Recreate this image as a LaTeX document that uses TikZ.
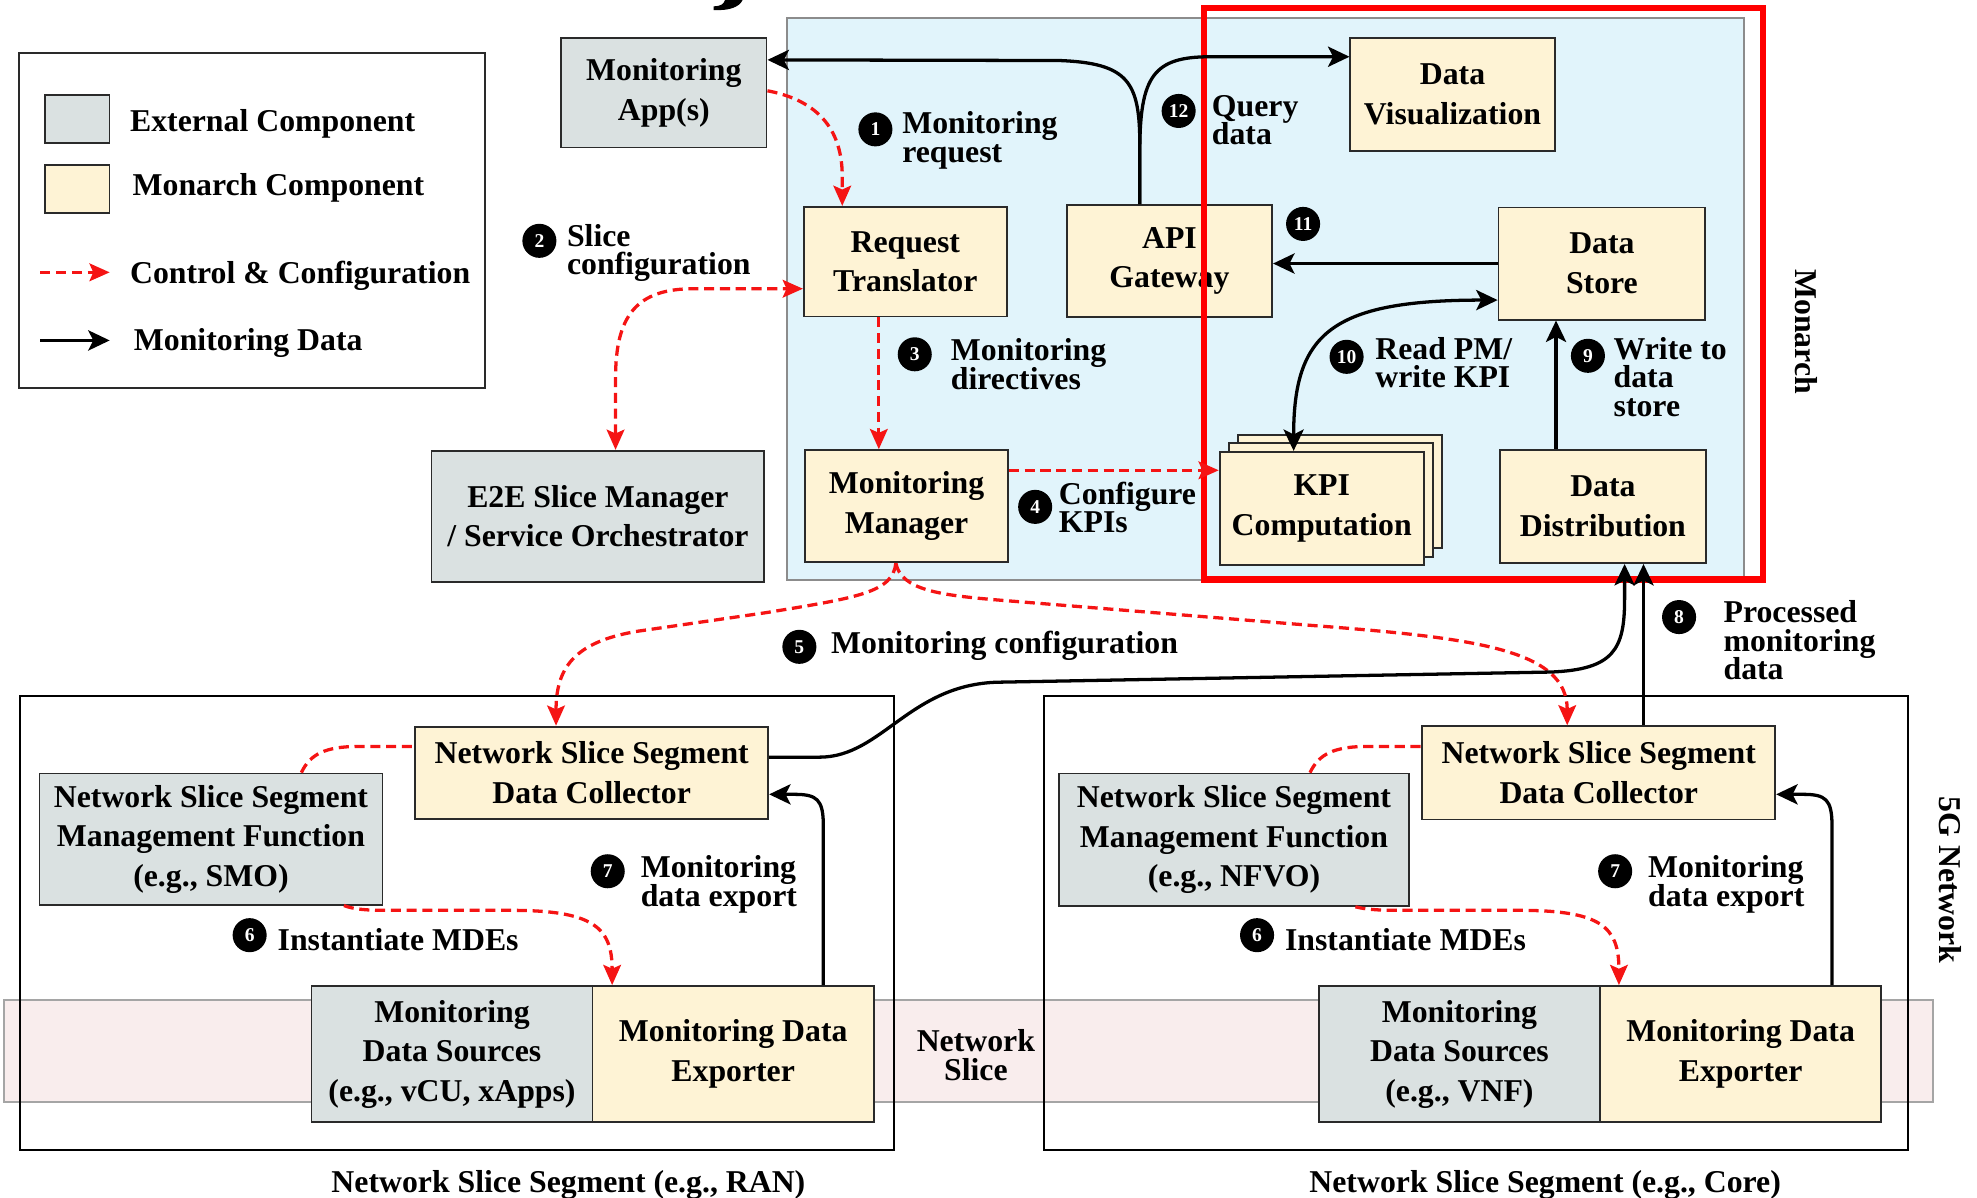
\documentclass[tikz,border=0pt]{standalone}
\usepackage{fontspec}
\setmainfont{Liberation Serif}
\usetikzlibrary{arrows.meta,calc}
\definecolor{extgray}{HTML}{DAE1E1}
\definecolor{monyel}{HTML}{FEF3D5}
\definecolor{monblue}{HTML}{E1F4FB}
\definecolor{slicepink}{HTML}{F9EDED}
\definecolor{monborder}{HTML}{8C8C8C}
\definecolor{bandborder}{HTML}{A5A5A5}
\definecolor{boxline}{HTML}{2A2A2A}
\definecolor{dashred}{HTML}{F51414}
\definecolor{focusred}{HTML}{FF0000}
\lineskiplimit=-100pt
\tikzset{
  lbltxt/.style={font=\fontsize{25.2}{31.4}\selectfont\bfseries, inner sep=0pt},
  compbox/.style={lbltxt, draw=boxline, line width=1.4pt, align=center},
  extbox/.style={compbox, fill=extgray},
  monbox/.style={compbox, fill=monyel},
  annot/.style={font=\fontsize{25.2}{#1}\selectfont\bfseries, inner sep=0pt, align=left, anchor=base west},
  annot/.default=22.5,
  badge/.style={circle, fill=black, text=white, inner sep=0pt, minimum size=27pt, font=\fontsize{15.5}{15.5}\selectfont\bfseries},
  ctrlline/.style={draw=dashred, line width=2.6pt, dash pattern=on 8pt off 4.5pt},
  ctrlarrow/.style={ctrlline, -{Stealth[length=16pt,width=14pt,inset=3pt]}},
  ctrlboth/.style={ctrlline, {Stealth[length=16pt,width=14pt,inset=3pt]}-{Stealth[length=16pt,width=14pt,inset=3pt]}},
  dataarrow/.style={draw=black, line width=2.6pt, -{Stealth[length=17pt,width=16pt,inset=4pt]}},
  databoth/.style={draw=black, line width=2.6pt, {Stealth[length=17pt,width=16pt,inset=4pt]}-{Stealth[length=17pt,width=16pt,inset=4pt]}},
}
\begin{document}
\begin{tikzpicture}[x=1pt,y=-1pt]
\useasboundingbox (0,0) rectangle (1568,950);

% title fragment at top edge
\fill (575,0) -- (589,0) .. controls (586,6) and (578,8.5) .. (566,8) -- (566,5) .. controls (572,5) and (574,3) .. (575,0) -- cycle;

% backgrounds
\node[draw=monborder, fill=monblue, line width=1.5pt, minimum width=759pt, minimum height=446pt, inner sep=0pt] (monarch) at (1003.5,237) {};
\node[draw=bandborder, fill=slicepink, line width=1.5pt, minimum width=1530pt, minimum height=81pt, inner sep=0pt] (band) at (768,833.5) {};
\node[draw=black, line width=1.8pt, minimum width=693pt, minimum height=360pt, inner sep=0pt] (segL) at (362.5,732) {};
\node[draw=black, line width=1.8pt, minimum width=685pt, minimum height=360pt, inner sep=0pt] (segR) at (1170.5,732) {};

% legend
\node[draw=boxline, line width=1.5pt, minimum width=370pt, minimum height=266pt, inner sep=0pt] (legend) at (200,175) {};
\node[extbox, minimum width=51pt, minimum height=38pt] (lgext) at (61.3,94.5) {};
\node[monbox, minimum width=51pt, minimum height=38pt] (lgmon) at (61.3,150) {};
\node[lbltxt, anchor=base west] (lgexttxt) at (103,104.5) {External Component};
\node[lbltxt, anchor=base west] (lgmontxt) at (105,155) {Monarch Component};
\node[lbltxt, anchor=base west] (lgctrltxt) at (103,225) {Control \& Configuration};
\node[lbltxt, anchor=base west] (lgdatatxt) at (106,278) {Monitoring Data};
\coordinate (lgc1) at (32,216); \coordinate (lgc2) at (87,216);
\coordinate (lgd1) at (32,270); \coordinate (lgd2) at (87,270);
\draw[ctrlarrow] (lgc1) -- (lgc2);
\draw[dataarrow] (lgd1) -- (lgd2);

% components
\node[extbox, minimum width=163pt, minimum height=87pt] (app) at (526.5,73.5) {Monitoring\\App(s)};
\node[monbox, minimum width=161pt, minimum height=87pt] (rt) at (718,207.5) {Request\\Translator};
\node[monbox, minimum width=163pt, minimum height=89pt] (api) at (927.5,207) {API\\Gateway};
\node[monbox, minimum width=162pt, minimum height=90pt] (viz) at (1152,75) {Data\\Visualization};
\node[monbox, minimum width=164pt, minimum height=89pt] (ds) at (1270.5,209) {Data\\Store};
\node[monbox, minimum width=161pt, minimum height=89pt] (mm) at (719,401.5) {Monitoring\\Manager};
\node[monbox, minimum width=162pt, minimum height=90pt] (kpiback) at (1062.7,389.9) {};
\node[monbox, minimum width=162pt, minimum height=90pt] (kpimid) at (1055.5,396.6) {};
\node[monbox, minimum width=162pt, minimum height=90pt] (kpi) at (1048.3,403.3) {KPI\\Computation};
\node[monbox, minimum width=163pt, minimum height=90pt] (dd) at (1271.3,401.6) {Data\\Distribution};
\node[extbox, minimum width=264pt, minimum height=104pt] (e2e) at (474.2,409.5) {E2E Slice Manager\\/ Service Orchestrator};

\node[monbox, minimum width=280pt, minimum height=73pt] (ldc) at (469.3,612.8) {Network Slice Segment\\Data Collector};
\node[extbox, minimum width=272pt, minimum height=104pt] (lmf) at (167.3,665.5) {Network Slice Segment\\Management Function\\(e.g., SMO)};
\node[extbox, minimum width=223pt, minimum height=108pt] (lmds) at (358.5,836) {Monitoring\\Data Sources\\(e.g., vCU, xApps)};
\node[monbox, minimum width=223pt, minimum height=108pt] (lmde) at (581.5,836) {Monitoring Data\\Exporter};

\node[monbox, minimum width=280pt, minimum height=74pt] (rdc) at (1268,613) {Network Slice Segment\\Data Collector};
\node[extbox, minimum width=278pt, minimum height=105pt] (rmf) at (978.7,666) {Network Slice Segment\\Management Function\\(e.g., NFVO)};
\node[extbox, minimum width=223pt, minimum height=108pt] (rmds) at (1157.5,836) {Monitoring\\Data Sources\\(e.g., VNF)};
\node[monbox, minimum width=223pt, minimum height=108pt] (rmde) at (1380.5,836) {Monitoring Data\\Exporter};

% side and bottom labels
\node[lbltxt, rotate=-90] (monarchlbl) at (1433,263) {Monarch};
\node[lbltxt, rotate=-90] (fiveglbl) at (1547,698) {5G Network};
\node[annot=23, align=center, anchor=base] (slicelbl) at (774,857) {Network\\Slice};
\node[lbltxt, anchor=base] (segLlbl) at (450.8,946) {Network Slice Segment (e.g., RAN)};
\node[lbltxt, anchor=base] (segRlbl) at (1225.5,946) {Network Slice Segment (e.g., Core)};

% focus frame
\node[draw=focusred, line width=5pt, minimum width=443pt, minimum height=453pt, inner sep=0pt] (focus) at (1176.5,233) {};

% control flows
\draw[ctrlarrow] ([yshift=1.5pt]app.east) .. controls (640,78) and (668,95) .. (668,140) -- ([xshift=-50pt]rt.north);
\draw[ctrlboth] ([xshift=14pt]e2e.north) -- (488.2,300) .. controls (488.2,250) and (505,229) .. (550,229) -- ([yshift=-21.5pt]rt.west);
\draw[ctrlarrow] ([xshift=-21pt]rt.south) -- ([xshift=-21pt]rt.south |- mm.north);
\draw[ctrlarrow] ([yshift=28.5pt]mm.east) -- ([yshift=28.5pt]mm.east -| kpi.west);
\draw[ctrlarrow] ([xshift=-8.5pt]mm.south) .. controls (708,470) and (680,474) .. (607,486) -- (506,500.6) .. controls (455,509) and (441,530) .. ([xshift=-28.3pt]ldc.north);
\draw[ctrlarrow] ([xshift=-8.5pt]mm.south) .. controls (715,468) and (745,472) .. (793,476) -- (1040,496) .. controls (1170,506) and (1243,515) .. ([xshift=-25pt]rdc.north);
\draw[ctrlarrow] ([xshift=105.5pt]lmf.south) .. controls (280,721) and (290,722) .. (305,722) -- (405,722) .. controls (470,722) and (485.5,735) .. ([xshift=-96pt]lmde.north);
\draw[ctrlarrow] ([xshift=96.3pt]rmf.south) .. controls (1082,721) and (1092,722) .. (1107,722) -- (1205,722) .. controls (1270,722) and (1284,735) .. ([xshift=-96.5pt]rmde.north);
\draw[ctrlline] ([xshift=71.7pt]lmf.north) .. controls (246,598) and (258,592) .. (285,592) -- ([yshift=20.8pt]ldc.west);
\draw[ctrlline] ([xshift=60.3pt]rmf.north) .. controls (1046,598) and (1058,592) .. (1085,592) -- ([yshift=21pt]rdc.west);

% monitoring data flows
\draw[dataarrow] ([xshift=71.5pt]lmde.north) -- (653,655) .. controls (653,634) and (648,630) .. (630,630) -- ([yshift=-17.2pt]ldc.east);
\draw[dataarrow] ([xshift=72.5pt]rmde.north) -- (1453,655) .. controls (1453,634) and (1448,630) .. (1430,630) -- ([yshift=-17pt]rdc.east);
\draw[dataarrow] ([yshift=12.3pt]ldc.east) -- (650,600.5) .. controls (700,600.5) and (722,541) .. (795,541) -- (1230,533) .. controls (1280,531) and (1288.5,515) .. (1288.5,475) -- ([xshift=17.2pt]dd.south);
\draw[dataarrow] ([xshift=35.5pt]rdc.north) -- ([xshift=35.5pt]rdc.north |- dd.south);
\draw[dataarrow] ([xshift=-37.2pt]dd.north) -- ([xshift=-37.2pt]dd.north |- ds.south);
\draw[databoth] ([xshift=-22.3pt]kpi.north) .. controls (1026,265) and (1055,238) .. ([yshift=-29pt]ds.west);
\draw[dataarrow] (ds.west) -- (ds.west -| api.east);
\draw[dataarrow] ([xshift=-23.5pt]api.north) -- (904,115) .. controls (904,65) and (895,50) .. (840,48) -- ([yshift=26pt]app.east);
\draw[dataarrow] ([xshift=-23.5pt]api.north) -- (904,120) .. controls (904,60) and (915,45) .. (960,45) -- ([yshift=30pt]viz.west);

% step badges and annotations (base anchor = baseline of last line)
\node[badge] (n1) at (694.3,102.6) {1};
\node[annot=23] (a1) at (715.4,129) {Monitoring\\request};
\node[badge] (n2) at (427.8,191) {2};
\node[annot=22.5] (a2) at (449.5,218) {Slice\\configuration};
\node[badge] (n3) at (725.5,281) {3};
\node[annot=23] (a3) at (754,309) {Monitoring\\directives};
\node[badge] (n4) at (821,402) {4};
\node[annot=21.5] (a4) at (839.7,422) {Configure\\KPIs};
\node[badge] (n5) at (634,513) {5};
\node[annot] (a5) at (659,518.5) {Monitoring configuration};
\node[badge] (n6a) at (198,741.7) {6};
\node[annot] (a6a) at (220,754) {Instantiate MDEs};
\node[badge] (n6b) at (997,741.7) {6};
\node[annot] (a6b) at (1019,754) {Instantiate MDEs};
\node[badge] (n7a) at (482,691) {7};
\node[annot=22.6] (a7a) at (508,718.6) {Monitoring\\data export};
\node[badge] (n7b) at (1281,691) {7};
\node[annot=22.6] (a7b) at (1307,718.6) {Monitoring\\data export};
\node[badge] (n8) at (1331.7,489.4) {8};
\node[annot=22.5] (a8) at (1366.8,539) {Processed\\monitoring\\data};
\node[badge] (n9) at (1259.4,282.2) {9};
\node[annot=22.5] (a9) at (1279.6,330) {Write to\\data\\store};
\node[badge] (n10) at (1068,283) {10};
\node[annot=22] (a10) at (1090.6,307.5) {Read PM/\\write KPI};
\node[badge] (n11) at (1033.5,177.6) {11};
\node[badge] (n12) at (934.8,88) {12};
\node[annot=22] (a12) at (961,114.5) {Query\\data};
\end{tikzpicture}
\end{document}
